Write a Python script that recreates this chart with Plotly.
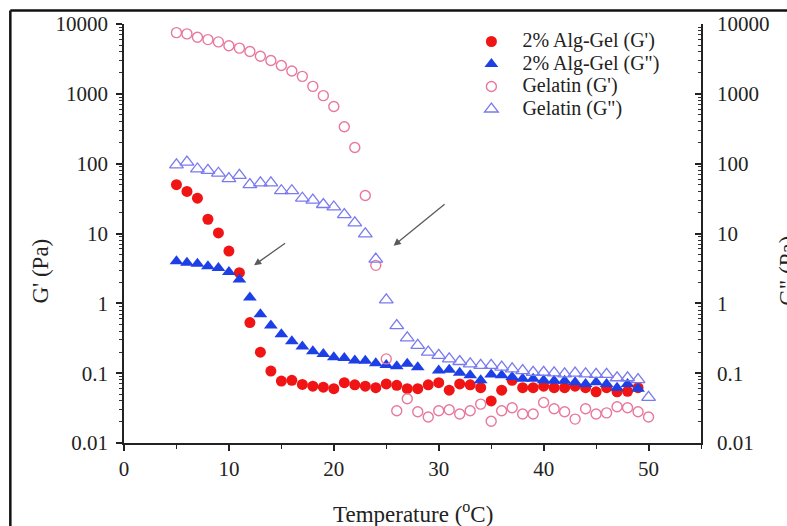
import math
import plotly.graph_objects as go

temperature = list(range(5, 51))

alg_g1 = [50, 40, 32, 16, 10.2, 5.6, 2.75, 0.53, 0.20, 0.107, 0.077, 0.079, 0.069, 0.065,
          0.063, 0.060, 0.073, 0.068, 0.065, 0.062, 0.070, 0.067, 0.060, 0.060, 0.068, 0.073,
          0.057, 0.070, 0.068, 0.062, 0.040, 0.057, 0.079, 0.062, 0.062, 0.065, 0.062, 0.062,
          0.065, 0.062, 0.054, 0.062, 0.054, 0.055, 0.062, None]
alg_g2 = [4.0, 3.8, 3.7, 3.4, 3.2, 2.8, 2.2, 1.21, 0.70, 0.48, 0.36, 0.286, 0.24, 0.206,
          0.188, 0.169, 0.165, 0.152, 0.150, 0.139, 0.131, 0.126, 0.136, 0.122, None, 0.109,
          0.112, 0.101, 0.093, 0.079, 0.096, 0.093, 0.088, 0.083, 0.083, 0.079, 0.078, 0.078,
          0.074, 0.070, 0.074, 0.070, 0.062, 0.070, 0.060, None]
gel_g1 = [7520, 7220, 6470, 5980, 5540, 4870, 4510, 4030, 3460, 3000, 2550, 2120, 1780, 1280,
          942, 657, 338, 170, 35, 3.5, 0.16, 0.029, 0.043, 0.028, 0.0236, 0.029, 0.030, 0.026,
          0.029, 0.036, 0.0205, 0.029, 0.032, 0.026, 0.026, 0.038, 0.031, 0.028, 0.022, 0.031,
          0.026, 0.027, 0.033, 0.032, 0.028, 0.0236]
gel_g2 = [96, 105, 84, 80, 73, 61, 68, 50, 53, 53, 41, 41, 32, 30, 26, 24, 18.6, 14.2, 9.9,
          4.3, 1.12, 0.48, 0.32, 0.25, 0.20, 0.18, 0.16, 0.147, 0.136, 0.129, 0.129, 0.122,
          0.115, 0.109, 0.103, 0.103, 0.101, 0.098, 0.10, 0.098, 0.096, 0.096, 0.086, 0.086,
          0.081, 0.045]

series_names = ["2% Alg-Gel (G')", '2% Alg-Gel (G")', "Gelatin (G')", 'Gelatin (G")']
x_ticks = [0, 10, 20, 30, 40, 50]
y_ticks = [0.01, 0.1, 1, 10, 100, 1000, 10000]
y_tick_labels = ["0.01", "0.1", "1", "10", "100", "1000", "10000"]

# arrow positions (temperature, value)
arrow1 = dict(head=(12.4, 3.52), tail=(15.5, 7.5))
arrow2 = dict(head=(25.7, 6.7), tail=(30.7, 27.2))

FONT = "Liberation Serif, Times New Roman, serif"


def legend_label(name):
    return '<span style="font-size:20px">' + name + '</span>'


fig = go.Figure()
fig.add_trace(go.Scatter(x=temperature, y=alg_g1, mode="markers",
                         name=legend_label(series_names[0]),
                         marker=dict(symbol="circle", size=11, color="#f01414")))
fig.add_trace(go.Scatter(x=temperature, y=alg_g2, mode="markers",
                         name=legend_label(series_names[1]),
                         marker=dict(symbol="triangle-up", size=12, color="#1d3fe6")))
fig.add_trace(go.Scatter(x=temperature, y=gel_g1, mode="markers",
                         name=legend_label(series_names[2]),
                         marker=dict(symbol="circle-open", size=10, color="#e8789c",
                                     line=dict(width=1.4, color="#e8789c"))))
fig.add_trace(go.Scatter(x=temperature, y=gel_g2, mode="markers",
                         name=legend_label(series_names[3]),
                         marker=dict(symbol="triangle-up-open", size=12, color="#7a7af0",
                                     line=dict(width=1.3, color="#7a7af0"))))
fig.add_trace(go.Scatter(x=[None], y=[None], yaxis="y2", showlegend=False, hoverinfo="skip"))

axis_font = dict(family=FONT, size=21, color="#222")

fig.update_layout(
    width=787, height=526,
    margin=dict(l=124, r=86, t=22, b=83),
    paper_bgcolor="white", plot_bgcolor="white",
    font=dict(family=FONT, size=20, color="#222"),
    showlegend=True,
    legend=dict(x=0.583, y=0.997, xanchor="left", yanchor="top", itemwidth=52,
                font=dict(family=FONT, size=15, color="#222"),
                bgcolor="rgba(0,0,0,0)", tracegroupgap=0),
    xaxis=dict(range=[0, 55], tickvals=x_ticks, ticks="outside", ticklen=6, tickwidth=1.5,
               tickcolor="#222", showline=True, linecolor="#222", linewidth=1.5,
               showgrid=False, zeroline=False, tickfont=axis_font,
               minor=dict(dtick=5, ticks="outside", ticklen=4, tickwidth=1.2, tickcolor="#222")),
    yaxis=dict(type="log", range=[-2, 4], tickvals=y_ticks, ticktext=y_tick_labels,
               ticks="outside", ticklen=6, tickwidth=1.5, tickcolor="#222",
               showline=True, linecolor="#222", linewidth=1.5, showgrid=False,
               zeroline=False, tickfont=axis_font, ticklabelstandoff=4,
               minor=dict(dtick="D1", ticks="outside", ticklen=3, tickwidth=1, tickcolor="#333")),
    yaxis2=dict(type="log", range=[-2, 4], overlaying="y", side="right", tickvals=y_ticks,
                ticktext=y_tick_labels, ticks="inside", ticklen=6, tickwidth=1.5,
                tickcolor="#222", showline=True, linecolor="#222", linewidth=1.5,
                showgrid=False, zeroline=False, tickfont=axis_font, ticklabelstandoff=10,
                minor=dict(dtick="D1", ticks="inside", ticklen=3, tickwidth=1, tickcolor="#333")),
)

annotations = [
    dict(text="Temperature (<sup>o</sup>C)", xref="paper", yref="paper", x=0.5, y=-0.165,
         xanchor="center", yanchor="middle", showarrow=False,
         font=dict(family=FONT, size=23, color="#222")),
    dict(text="G' (Pa)", xref="paper", yref="paper", x=-0.145, y=0.41, textangle=-90,
         xanchor="center", yanchor="middle", showarrow=False,
         font=dict(family=FONT, size=23, color="#222")),
    dict(text='G" (Pa)', xref="paper", yref="paper", x=1.15, y=0.41, textangle=-90,
         xanchor="center", yanchor="middle", showarrow=False,
         font=dict(family=FONT, size=23, color="#222")),
]
for arr in (arrow1, arrow2):
    annotations.append(dict(
        x=arr["head"][0], y=math.log10(arr["head"][1]), xref="x", yref="y",
        ax=arr["tail"][0], ay=math.log10(arr["tail"][1]), axref="x", ayref="y",
        text="", showarrow=True, arrowhead=2, arrowsize=1.1, arrowwidth=1.3,
        arrowcolor="#5a5a5a"))
fig.update_layout(annotations=annotations)

# outer figure frame (top and left edges visible)
fig.add_shape(type="line", xref="paper", yref="paper", x0=-0.197, x1=1.2, y0=1.032, y1=1.032,
              line=dict(color="#111", width=2.5), layer="above")
fig.add_shape(type="line", xref="paper", yref="paper", x0=-0.197, x1=-0.197, y0=1.032, y1=-0.3,
              line=dict(color="#111", width=2.5), layer="above")

fig.write_html("out.html", config={"displayModeBar": False},
               post_script="document.body.style.margin='0px';"
               "document.body.style.overflow='hidden';")
